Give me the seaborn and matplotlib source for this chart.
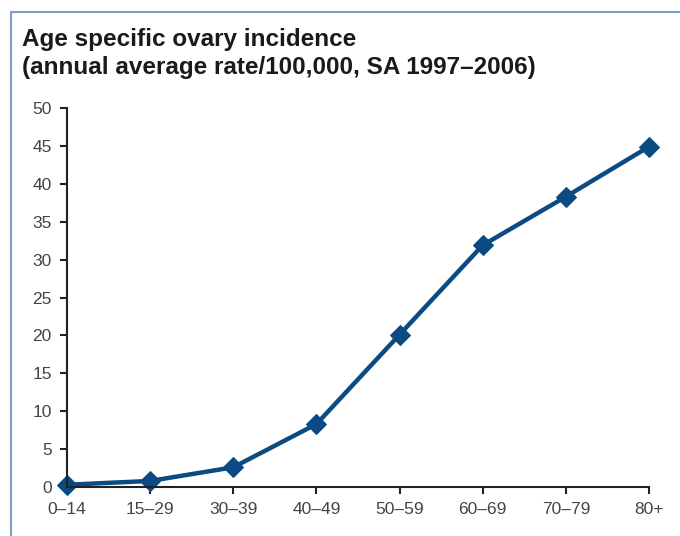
import matplotlib
matplotlib.use("Agg")
import matplotlib.pyplot as plt
from matplotlib.lines import Line2D
import seaborn as sns
import pandas as pd

age_groups = ["0–14", "15–29", "30–39", "40–49", "50–59", "60–69", "70–79", "80+"]
rates = [0.3, 0.8, 2.6, 8.3, 20.1, 31.9, 38.3, 44.9]
y_ticks = [0, 5, 10, 15, 20, 25, 30, 35, 40, 45, 50]

LINE_COLOR = "#0b4a82"
BORDER = "#7f9fc8"

sns.set_style("ticks")
plt.rcParams["font.family"] = ["Liberation Sans", "DejaVu Sans"]

df = pd.DataFrame({"pos": range(len(age_groups)), "rate": rates})

fig = plt.figure(figsize=(6.8, 5.36), dpi=100)
ax = fig.add_axes([0.0985, 0.0914, 0.8559, 0.7071])

sns.lineplot(data=df, x="pos", y="rate", color=LINE_COLOR, linewidth=3.2,
             marker="D", markersize=10, markeredgecolor=LINE_COLOR, ax=ax)

ax.set_xlim(0, len(age_groups) - 1)
ax.set_ylim(0, 50)
ax.set_xticks(range(len(age_groups)))
ax.set_xticklabels(age_groups)
ax.set_yticks(y_ticks)
ax.set_xlabel("")
ax.set_ylabel("")
for line in ax.lines:
    line.set_clip_on(False)

for side in ["top", "right"]:
    ax.spines[side].set_visible(False)
for side in ["left", "bottom"]:
    ax.spines[side].set_color("#222222")
    ax.spines[side].set_linewidth(1.5)
ax.tick_params(axis="both", direction="out", length=5, width=1.5, color="#222222",
               labelsize=12.5, labelcolor="#444444", pad=6)

fig.text(22 / 680, 1 - 28 / 536,
         "Age specific ovary incidence\n(annual average rate/100,000, SA 1997–2006)",
         ha="left", va="top", fontsize=17.5, fontweight="bold", color="#1a1a1a",
         linespacing=1.3)

# frame lines (top and left) around the panel
fig.add_artist(Line2D([10.5 / 680, 1], [1 - 11.5 / 536, 1 - 11.5 / 536], color=BORDER, linewidth=1.5))
fig.add_artist(Line2D([10.5 / 680, 10.5 / 680], [0, 1 - 11.5 / 536], color=BORDER, linewidth=1.5))

fig.savefig("out.png", dpi=100)
